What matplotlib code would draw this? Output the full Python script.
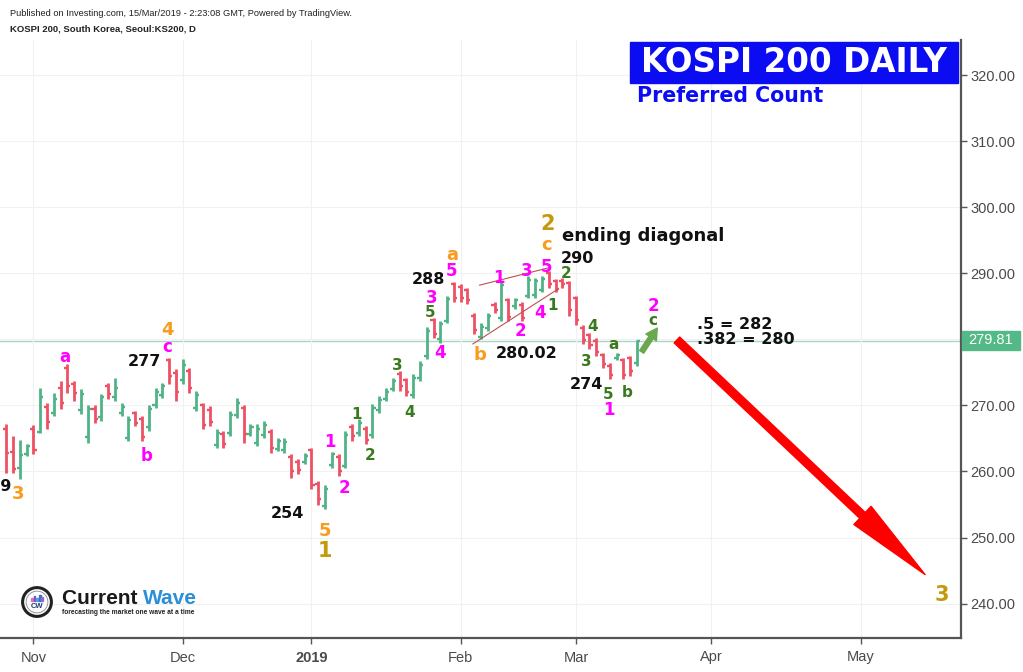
import matplotlib
matplotlib.use("Agg")
import matplotlib.pyplot as plt
from matplotlib.patches import Rectangle, Circle

# ---------------- data (KOSPI 200 daily OHLC, 26 Oct 2018 - 15 Mar 2019) ----------------
opens = [266.5, 263.0, 260.5, 262.7, 266.5, 266.0, 269.8, 268.8, 272.6, 275.6,
         273.2, 269.3, 265.2, 269.5, 268.2, 273.0, 271.3, 268.9, 265.0, 268.8,
         267.9, 266.7, 270.1, 271.5, 276.8, 274.9, 273.9, 275.2, 269.6, 270.0,
         269.3, 264.0, 265.6, 265.8, 268.5, 269.6, 265.7, 264.3, 265.5, 266.0,
         263.4, 263.2, 262.2, 261.5, 261.4, 263.2, 258.1, 254.8, 261.0, 262.2,
         260.9, 266.8, 265.8, 266.5, 265.5, 269.3, 271.0, 272.5, 274.8, 273.8,
         271.5, 274.1, 277.5, 282.9, 280.0, 282.8, 288.3, 287.9, 287.4, 283.6,
         280.4, 281.7, 285.2, 283.2, 285.9, 285.0, 285.2, 286.6, 286.7, 287.5,
         290.0, 288.8, 288.9, 288.5, 286.2, 281.7, 280.6, 279.8, 277.6, 276.0,
         277.1, 276.8, 277.1, 276.4]
highs = [267.2, 265.4, 264.8, 264.2, 267.0, 272.7, 270.4, 271.9, 273.7, 276.3,
         273.7, 272.5, 270.0, 270.0, 271.7, 273.4, 274.2, 270.4, 268.4, 269.2,
         268.4, 270.0, 272.7, 273.4, 277.2, 275.5, 277.0, 275.7, 272.2, 270.4,
         269.9, 266.4, 266.1, 269.2, 271.1, 270.0, 267.2, 267.2, 267.6, 266.4,
         265.1, 265.1, 262.6, 261.9, 262.8, 263.6, 258.5, 258.0, 263.0, 262.6,
         266.1, 267.2, 268.0, 266.9, 270.2, 271.4, 272.6, 274.2, 275.2, 274.2,
         274.8, 276.7, 281.8, 283.3, 282.8, 286.6, 288.7, 288.4, 287.8, 284.0,
         282.4, 284.0, 285.6, 288.9, 286.3, 286.3, 285.6, 289.6, 289.3, 289.6,
         290.3, 289.2, 289.3, 288.9, 286.6, 282.1, 281.0, 280.2, 278.0, 276.4,
         278.0, 277.2, 277.5, 279.9]
lows = [259.8, 259.8, 258.9, 262.3, 262.6, 265.8, 266.4, 268.4, 269.5, 271.9,
        270.7, 268.7, 264.3, 267.3, 267.6, 271.0, 270.7, 268.4, 264.6, 266.9,
        264.6, 266.1, 269.6, 271.1, 273.3, 270.7, 273.3, 271.9, 269.2, 266.4,
        266.9, 263.6, 263.6, 265.4, 268.1, 264.3, 265.4, 263.9, 265.1, 262.8,
        263.1, 262.8, 259.0, 259.6, 261.1, 257.3, 255.0, 254.3, 260.5, 259.3,
        260.5, 264.6, 265.4, 264.2, 265.1, 268.9, 270.7, 272.2, 272.2, 271.4,
        271.1, 273.7, 277.0, 280.2, 279.5, 282.4, 285.6, 285.6, 285.4, 280.8,
        280.02, 281.3, 284.0, 282.8, 282.8, 284.6, 282.8, 286.2, 286.3, 287.1,
        287.7, 287.1, 287.8, 283.6, 282.1, 279.3, 278.6, 277.5, 275.7, 274.0,
        276.8, 274.0, 274.5, 276.0]
closes = [262.8, 260.4, 262.5, 263.9, 263.3, 271.2, 267.5, 271.0, 270.3, 273.0,
          271.9, 271.8, 269.4, 268.0, 271.2, 271.7, 272.6, 269.8, 267.8, 267.4,
          265.2, 269.5, 272.0, 273.0, 274.5, 272.0, 276.1, 272.6, 271.5, 267.0,
          267.5, 265.8, 264.1, 268.6, 270.3, 265.6, 266.8, 266.5, 267.0, 263.5,
          264.6, 264.4, 260.0, 260.2, 262.3, 258.0, 255.8, 257.4, 262.6, 260.0,
          265.5, 265.3, 267.4, 264.8, 269.6, 270.8, 272.1, 273.7, 272.9, 272.0,
          274.2, 276.1, 281.2, 280.8, 282.3, 286.1, 286.3, 286.2, 285.9, 281.4,
          281.9, 283.6, 284.4, 288.2, 283.4, 285.9, 283.3, 289.0, 288.8, 289.1,
          288.3, 287.6, 288.3, 284.5, 282.9, 279.9, 279.2, 278.1, 276.3, 274.6,
          277.7, 274.6, 275.2, 279.81]
month_labels = ["Nov", "Dec", "2019", "Feb", "Mar", "Apr", "May"]
month_bar_index = [4, 26, 45, 67, 84, 104, 126]   # first trading bar of each month
price_ticks = [240, 250, 260, 270, 280, 290, 300, 310, 320]
last_price = 279.81

# ---------------- figure ----------------
W, H = 1023, 672
fig = plt.figure(figsize=(W / 100, H / 100), dpi=100)
fig.patch.set_facecolor("white")
ax = fig.add_axes([0, (H - 638) / H, 961 / W, 598 / H])
ax.set_xlim(-0.94, 140.8)
ax.set_ylim(234.8, 325.3)

UP, DOWN = "#4fb386", "#ee5064"
for i, (o, h, l, c) in enumerate(zip(opens, highs, lows, closes)):
    col = UP if c >= o else DOWN
    ax.vlines(i, l, h, color=col, lw=2.0, zorder=3)
    ax.hlines(o, i - 0.45, i, color=col, lw=1.7, zorder=3)
    ax.hlines(c, i, i + 0.45, color=col, lw=1.7, zorder=3)

ax.axhline(last_price, color="#a9d6c4", lw=1, zorder=1)

# axes styling
for s in ["top", "left"]:
    ax.spines[s].set_visible(False)
for s in ["right", "bottom"]:
    ax.spines[s].set_color("#555555")
    ax.spines[s].set_linewidth(1.6)
ax.yaxis.tick_right()
ax.set_yticks(price_ticks)
ax.set_yticklabels(["" if t == 280 else f"{t:.2f}" for t in price_ticks],
                   family="Liberation Sans")
ax.set_xticks(month_bar_index)
ax.set_xticklabels(month_labels, family="Liberation Sans")
for lab in ax.get_xticklabels():
    if lab.get_text() == "2019":
        lab.set_fontweight("bold")
ax.tick_params(axis="y", labelsize=10.5, colors="#555555", labelcolor="#4a4a4a",
               length=4, width=1, pad=3)
ax.tick_params(axis="x", labelsize=10.5, colors="#555555", labelcolor="#4a4a4a",
               length=4, width=1, pad=5)
ax.grid(True, color="#f1f1f1", lw=0.8, zorder=0)

# ---------------- wave labels ----------------
MAG, ORG, GRN, GOLD, BLK = "#ff00ff", "#f99b1c", "#3a7a1e", "#c49a0d", "#111111"
labels = [
    ("259", 0.83, 257.8, BLK, 11.5, "right"),
    ("3", 1.71, 256.6, ORG, 13, "center"),
    ("a", 8.64, 277.4, MAG, 12, "center"),
    ("b", 20.7, 262.4, MAG, 12, "center"),
    ("4", 23.8, 281.4, ORG, 13, "center"),
    ("c", 23.7, 278.8, MAG, 12, "center"),
    ("277", 20.4, 276.6, BLK, 11.5, "center"),
    ("254", 41.4, 253.6, BLK, 11.5, "center"),
    ("5", 47.0, 251.0, ORG, 13, "center"),
    ("1", 47.0, 248.0, GOLD, 15, "center"),
    ("1", 47.7, 264.5, MAG, 12, "center"),
    ("2", 49.8, 257.5, MAG, 12, "center"),
    ("1", 51.6, 268.6, GRN, 11, "center"),
    ("2", 53.6, 262.4, GRN, 11, "center"),
    ("3", 57.6, 276.1, GRN, 11, "center"),
    ("4", 59.5, 268.9, GRN, 11, "center"),
    ("5", 62.5, 284.1, GRN, 11, "center"),
    ("3", 62.8, 286.3, MAG, 12, "center"),
    ("4", 64.0, 277.9, MAG, 12, "center"),
    ("288", 62.2, 289.0, BLK, 11.5, "center"),
    ("5", 65.7, 290.3, MAG, 12, "center"),
    ("a", 65.7, 292.8, ORG, 13, "center"),
    ("b", 69.8, 277.6, ORG, 13, "center"),
    ("280.02", 76.8, 277.8, BLK, 11.5, "center"),
    ("1", 72.6, 289.3, MAG, 12, "center"),
    ("2", 75.8, 281.3, MAG, 12, "center"),
    ("3", 76.8, 290.3, MAG, 12, "center"),
    ("4", 78.7, 284.0, MAG, 12, "center"),
    ("5", 79.7, 291.0, MAG, 12, "center"),
    ("1", 80.6, 285.1, GRN, 11, "center"),
    ("2", 82.5, 289.9, GRN, 11, "center"),
    ("290", 84.3, 292.3, BLK, 11.5, "center"),
    ("c", 79.7, 294.3, ORG, 13, "center"),
    ("2", 79.9, 297.5, GOLD, 15, "center"),
    ("ending diagonal", 81.9, 295.6, BLK, 13, "left"),
    ("4", 86.5, 281.9, GRN, 11, "center"),
    ("3", 85.5, 276.6, GRN, 11, "center"),
    ("274", 85.5, 273.1, BLK, 11.5, "center"),
    ("5", 88.7, 271.6, GRN, 11, "center"),
    ("1", 88.9, 269.3, MAG, 12, "center"),
    ("a", 89.5, 279.2, GRN, 11, "center"),
    ("b", 91.5, 272.0, GRN, 11, "center"),
    ("2", 95.5, 285.1, MAG, 12, "center"),
    ("c", 95.4, 282.9, GRN, 11, "center"),
    (".5 = 282", 101.9, 282.3, BLK, 11.5, "left"),
    (".382 = 280", 101.9, 279.9, BLK, 11.5, "left"),
    ("3", 138.0, 241.3, GOLD, 15, "center"),
]
for txt, x, y, col, fs, ha in labels:
    ax.text(x, y, txt, color=col, fontsize=fs, fontweight="bold",
            family="DejaVu Sans", ha=ha, va="center", zorder=6, clip_on=False)

# ending diagonal lines
ax.plot([69.8, 79.9], [288.2, 290.8], color="#c0504d", lw=0.8, zorder=4)
ax.plot([68.8, 81.2], [279.3, 287.5], color="#c0504d", lw=0.8, zorder=4)

# arrows
ax.annotate("", xy=(96.0, 281.7), xytext=(93.7, 278.1),
            arrowprops=dict(arrowstyle="simple,head_length=0.8,head_width=0.9,tail_width=0.35",
                            color="#6aa84f", shrinkA=0, shrinkB=0, mutation_scale=10),
            zorder=6)
ax.annotate("", xy=(135.5, 244.4), xytext=(98.9, 279.9),
            arrowprops=dict(arrowstyle="simple,head_length=6.2,head_width=1.8,tail_width=0.58",
                            color="#ff0000", shrinkA=0, shrinkB=0, mutation_scale=10),
            zorder=6)

# ---------------- title box ----------------
fig.add_artist(Rectangle((630 / W, 1 - 83 / H), 328 / W, 41 / H,
                         transform=fig.transFigure, color="#0c0cf2", zorder=5))
fig.text(794 / W, 1 - 63 / H, "KOSPI 200 DAILY", color="white", fontsize=23.5,
         fontweight="bold", family="DejaVu Sans", ha="center", va="center", zorder=6)
fig.text(637 / W, 1 - 96 / H, "Preferred Count", color="#0c0cf2", fontsize=14.8,
         fontweight="bold", family="DejaVu Sans", ha="left", va="center", zorder=6)

# last price box
fig.add_artist(Rectangle((962 / W, 1 - 350 / H), 58 / W, 19 / H,
                         transform=fig.transFigure, color="#53b987", zorder=5))
fig.text(991 / W, 1 - 340.5 / H, f"{last_price:.2f}", color="white", fontsize=10.5,
         family="Liberation Sans", ha="center", va="center", zorder=6)

# header
fig.text(10 / W, 1 - 14 / H,
         "Published on Investing.com, 15/Mar/2019 - 2:23:08 GMT, Powered by TradingView.",
         fontsize=6.7, family="Liberation Sans", color="#222222", va="center")
fig.text(10 / W, 1 - 29 / H, "KOSPI 200, South Korea, Seoul:KS200, D",
         fontsize=6.8, fontweight="bold", family="Liberation Sans", color="#222222",
         va="center")

# ---------------- logo ----------------
axl = fig.add_axes([21 / W, 1 - 618 / H, 32 / W, 32 / H])
axl.set_xlim(0, 1)
axl.set_ylim(0, 1)
axl.axis("off")
axl.add_patch(Circle((0.5, 0.5), 0.45, fill=False, lw=2.2, ec="#222222"))
axl.add_patch(Circle((0.5, 0.5), 0.34, fill=False, lw=0.6, ec="#888888"))
for bx, bh, bc in [(0.32, 0.10, "#e66bb5"), (0.40, 0.16, "#6a5acd"),
                   (0.48, 0.12, "#4aa3df"), (0.56, 0.20, "#3b6fc4"), (0.64, 0.14, "#8e6bd6")]:
    axl.add_patch(Rectangle((bx, 0.52), 0.05, bh, color=bc))
axl.text(0.5, 0.36, "CW", fontsize=5.5, fontweight="bold", color="#1f3d7a",
         ha="center", va="center", family="Liberation Sans")

t1 = fig.text(62 / W, 1 - 598 / H, "Current ", fontsize=15, fontweight="bold",
              family="Liberation Sans", color="#1a1a1a", va="center")
fig.canvas.draw()
bb = t1.get_window_extent()
fig.text(bb.x1 / W, 1 - 598 / H, "Wave", fontsize=15, fontweight="bold",
         family="Liberation Sans", color="#2a8fd6", va="center")
fig.text(62 / W, 1 - 612 / H, "forecasting the market one wave at a time",
         fontsize=4.8, fontweight="bold", family="Liberation Sans", color="#222222",
         va="center")

fig.savefig("out.png", dpi=100, facecolor="white")
